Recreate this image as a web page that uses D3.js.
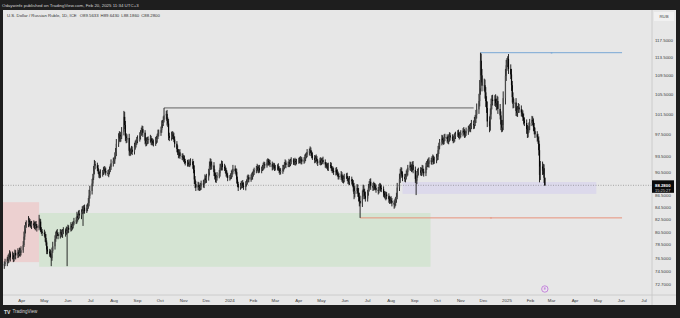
<!DOCTYPE html>
<html><head><meta charset="utf-8">
<script src="https://cdn.jsdelivr.net/npm/d3@7/dist/d3.min.js"></script>
<style>html,body{margin:0;padding:0;background:#1e1e1e;overflow:hidden}svg{display:block}</style>
</head><body><svg id="c" width="680" height="318"></svg>
<script>
// ---- data (USD/RUB daily, ICE) ----
const lastDate = "2025-02-20";
const firstOpen = 75.4;
const closes = [
 75.6,75.9,76.4,76.1,76.8,77.2,76.6,76.9,76.4,76.7,77.3,76.9,77.4,77.1,77.6,77.3,77.7,
 78.5,79.8,80.9,81.6,81.8,82.4,82.1,81.7,81.5,81.9,81.6,81.3,81.8,81.5,81.2,81.6,82.2,80.8,80.6,80.4,
 80.2,79.6,78.9,77.8,77.5,77.2,76.9,76.5,77.6,78.3,79.4,80.1,80.4,80.2,79.9,80.5,80.3,80.1,80.6,80.8,80.4,80.9,80.7,
 81.2,80.9,81.5,81.3,81.6,81.9,82.2,82.4,83.1,82.8,83.5,83.2,83.8,84.2,84.0,84.5,83.9,84.4,84.7,85.3,86.5,87.3,
 88.6,89.6,90.8,92.0,91.8,91.3,90.7,90.2,90.0,90.4,90.6,90.9,91.2,90.8,90.5,90.3,90.7,91.0,91.5,92.2,92.6,
 92.7,93.5,94.2,95.8,97.0,97.5,96.8,97.2,98.1,101.0,99.4,97.2,96.6,96.9,94.5,94.2,94.4,94.7,94.3,95.3,95.8,96.1,96.4,
 96.8,97.3,97.8,98.1,98.6,97.9,96.4,95.9,96.3,96.6,96.5,96.8,96.2,96.3,96.0,95.9,96.4,96.7,97.2,97.8,97.9,
 98.4,99.5,99.8,100.4,101.3,101.6,100.2,99.7,97.3,96.9,97.4,97.6,97.2,96.6,95.8,94.8,94.2,93.8,94.2,93.5,93.4,93.2,
 93.0,92.6,92.2,92.3,92.1,92.0,92.4,92.5,91.9,91.0,89.3,88.5,87.9,88.3,88.0,87.8,88.1,88.6,88.4,88.9,89.5,89.2,
 89.7,90.5,91.7,92.5,91.6,91.8,90.6,89.9,89.3,89.6,89.9,90.4,91.4,91.6,92.1,91.5,91.3,91.0,90.3,90.0,89.6,
 89.7,89.9,90.3,90.6,91.2,90.8,90.6,89.3,88.5,87.9,88.2,88.4,88.7,88.2,88.0,88.5,88.9,89.4,89.7,89.3,89.7,89.9,90.2,
 90.6,91.0,91.2,91.5,91.0,91.3,90.9,91.2,91.4,91.7,92.0,91.8,92.3,92.6,92.4,92.2,92.0,91.5,91.8,91.6,91.3,
 91.4,91.6,91.2,91.0,90.6,90.8,91.3,91.5,91.9,92.3,91.9,92.0,92.4,92.1,92.5,92.7,92.5,92.3,92.6,92.4,92.5,
 92.7,92.9,92.6,92.9,92.5,92.8,93.2,93.5,93.8,94.2,94.4,94.6,94.1,93.6,93.2,92.8,93.2,93.0,92.5,92.3,92.7,92.3,
 92.6,92.8,92.4,92.0,91.8,91.6,91.4,91.9,91.7,91.3,91.1,90.8,90.6,91.0,90.5,90.3,89.9,89.7,90.2,89.5,89.1,89.4,89.8,
 89.9,89.5,89.1,88.8,89.3,89.0,88.6,87.9,86.8,87.3,87.8,87.0,86.3,85.6,85.2,86.4,87.6,87.1,86.5,86.0,
 86.9,87.8,88.4,88.9,88.2,87.9,88.3,88.1,87.8,87.5,87.3,87.9,88.2,87.8,87.6,86.9,86.6,86.3,86.7,86.4,85.9,85.6,85.8,
 85.6,85.3,85.0,85.4,85.8,86.3,87.9,89.4,90.4,90.8,90.2,89.7,89.4,89.8,90.2,90.6,91.4,91.8,91.5,91.2,91.9,91.0,
 89.4,89.1,90.1,90.6,90.9,90.5,90.9,91.2,90.7,90.4,91.6,92.0,92.4,92.1,92.7,92.5,92.9,93.1,92.6,92.8,93.2,
 93.4,94.6,95.3,96.1,96.8,96.5,96.2,96.9,97.1,96.7,96.3,96.9,97.4,97.0,96.8,96.5,96.9,97.3,97.6,97.8,97.5,97.3,97.5,
 97.8,98.3,98.0,97.6,97.8,98.2,98.6,98.9,98.7,99.2,99.6,99.4,100.1,100.6,101.4,102.5,104.2,106.8,112.8,109.6,107.4,
 107.5,106.0,104.2,102.8,100.1,99.2,101.5,103.6,104.5,104.2,104.6,103.8,103.4,104.2,102.6,101.3,99.5,98.9,99.4,104.8,109.5,111.8,
 112.4,113.2,111.0,109.8,107.5,105.0,103.6,103.9,102.2,101.8,102.4,102.9,102.5,101.9,101.6,100.9,100.3,99.8,98.6,97.7,98.5,99.2,99.8,
 100.4,100.1,99.0,98.2,97.6,97.0,96.4,94.6,90.1,91.6,90.9,91.3,89.6,88.28
];
const upperWicks = [
 .4,.5,.3,.6,.4,.5,.3,.6,.4,.3,.5,.4,.6,.3,.5,.4,.6,
 .6,.8,.7,.5,.6,.7,.4,.5,.6,.4,.5,.6,.4,.5,.3,1.7,.5,.4,.5,.4,
 .5,.4,.6,.3,.5,.4,.6,.3,.5,.7,.6,.5,.4,.6,.3,.5,.4,.6,.4,.5,.3,.5,.4,
 .5,.4,.6,.3,.5,.4,.6,.5,.7,.4,.5,.6,.4,.5,.6,.4,.5,.6,.5,.8,1.0,.9,
 .8,.7,.9,.8,.6,.5,.6,.4,.5,.7,.4,.6,.5,.4,.6,.5,.4,.6,.5,.7,.6,
 .6,.7,.8,.9,.8,.7,.6,.8,.9,1.2,1.0,.8,.6,.7,.8,.6,.5,.7,.6,.7,.6,.5,.7,
 .6,.7,.6,.8,.7,.6,.5,.6,.7,.5,.6,.7,.5,.6,.5,.6,.7,.6,.5,.7,.6,
 .7,.8,.6,.7,1.5,.6,.8,.7,.9,.6,.7,.6,.5,.7,.6,.5,.7,.6,.5,.6,.5,.6,
 .5,.6,.4,.5,.6,.4,.5,.6,.5,.7,.8,.6,.5,.6,.5,.4,.6,.5,.6,.5,.7,.5,
 .6,.7,.8,.6,.5,.7,.6,.5,.6,.5,.7,.6,.7,.5,.6,.5,.6,.5,.4,.6,.5,
 .4,.5,.6,.5,.7,.6,.5,.6,.5,.4,.5,.6,.4,.5,.6,.5,.4,.6,.5,.4,.5,.6,.5,
 .5,.4,.5,.6,.4,.5,.6,.4,.5,.6,.5,.4,.6,.5,.4,.5,.6,.5,.4,.5,.6,
 .5,.4,.6,.5,.4,.5,.6,.4,.5,.6,.4,.5,.6,.4,.5,.6,.4,.5,.6,.4,.5,
 .5,.4,.6,.5,.4,.5,.6,.5,.4,.6,.5,.7,.5,.4,.6,.5,.4,.6,.5,.4,.5,.6,
 .5,.4,.6,.5,.4,.5,.6,.4,.5,.6,.4,.5,.6,.4,.5,.6,.4,.5,.6,.4,.5,.6,.5,
 .5,.6,.4,.5,.6,.5,.4,.6,.8,.9,.7,.6,.8,.7,.9,1.0,.8,.7,.6,.7,
 .6,.7,.6,.5,.6,.5,.6,.4,.5,.6,.5,.6,.5,.4,.6,.5,.4,.6,.5,.4,.5,.6,.5,
 .6,.5,.4,.6,.5,.7,.8,.9,.8,.7,.6,.5,.6,.5,.7,.6,.5,.7,.6,.5,.6,.7,
 .6,.5,.7,.6,.5,.6,.5,.7,.6,.5,.7,.6,.5,.7,.6,.5,.6,.7,.5,.6,.7,
 .6,.8,.7,.6,.7,.6,.5,.7,.6,.5,.6,.7,.6,.5,.6,.5,.7,.6,.5,.6,.7,.5,.6,
 .6,.5,.7,.6,.5,.7,.6,.5,.7,.6,.8,.7,.9,.8,1.0,1.2,1.5,1.8,1.8,1.6,1.4,
 1.4,1.2,1.1,1.0,1.3,1.0,1.2,1.1,.9,1.0,.8,1.0,.9,1.1,.9,1.0,.8,.9,1.0,1.4,1.5,1.2,
 1.0,.6,1.1,1.0,1.2,.9,1.0,.8,.9,.7,.8,.9,.7,.8,.6,.7,.8,.6,.7,.8,.6,.7,.8,
 .8,.7,.6,.8,.7,.6,.7,.8,1.2,1.0,.9,.8,.7,.04
];
const lowerWicks = [
 .5,.3,.6,.4,.3,.5,.6,.3,.5,.4,.3,.6,.4,.5,.3,.6,.4,
 .4,.3,.5,.6,.4,.5,.6,.4,.3,.5,.4,.3,.5,.4,.6,.4,.5,.3,.4,.5,
 .4,.6,.5,.7,.4,.5,.3,1.2,.4,.3,.5,.4,.6,.3,.5,.4,.6,.3,.5,.4,.6,.3,5.4,
 .4,.5,.3,.6,.4,.5,.3,.4,.5,.6,.3,.5,.6,.4,2.5,.5,.4,.3,.5,.4,.6,.5,
 .6,.5,.4,.6,.7,.5,.4,.6,.5,.4,.6,.5,.4,.6,.5,.4,.6,.5,.4,.5,.6,
 .5,.6,.5,.7,.6,.8,.7,.6,.5,.7,.8,.9,.7,.6,.9,.7,.6,.5,.6,.5,.6,.7,.5,
 .5,.6,.7,.5,.6,.8,.7,.6,.5,.6,.7,.5,.6,.7,.5,.6,.5,.6,.7,.5,.6,
 .6,.5,.7,.6,.5,.8,.9,.7,.8,.6,.5,.7,.6,.5,.7,.6,.5,.7,.6,.5,.6,.5,
 .6,.5,.4,.6,.5,.4,.5,.6,.7,.6,.8,.7,.6,.5,.6,.5,.4,.6,.5,.6,.4,.5,
 .5,.6,.5,.7,.6,.5,.7,.6,.5,.6,.5,.4,.6,.5,.7,.6,.5,.6,.5,.4,.6,
 .5,.4,.5,.6,.4,.5,.6,.7,.5,.6,.4,.5,.6,.4,.5,.6,.4,.5,.6,.5,.4,.5,.6,
 .4,.5,.6,.4,.5,.6,.4,.5,.4,.5,.6,.5,.4,.5,.6,.4,.5,.6,.5,.4,.5,
 .4,.5,.4,.6,.5,.4,.5,.6,.4,.5,.6,.4,.5,.6,.4,.5,.6,.4,.5,.6,.4,
 .4,.5,.4,.6,.5,.4,.5,.6,.4,.5,.6,.4,.6,.5,.4,.6,.5,.4,.5,.6,.4,.5,
 .4,.5,.4,.6,.5,.4,.5,.6,.4,.5,.6,.4,.5,.6,.4,.5,.6,.4,.5,.6,.4,.5,.6,
 .4,.5,.6,.4,.5,.6,.5,.7,.9,.6,.5,.7,.8,.9,2.4,.6,.5,.7,.6,.5,
 .5,.4,.6,.5,.7,.6,.5,.6,.4,.5,.6,.4,.5,.6,.5,.6,.5,.4,.6,.5,.6,.5,.4,
 .5,.6,.7,.5,.6,.5,.4,.6,.7,.5,.6,.7,.5,.6,.5,.4,.6,.5,.7,.6,.5,.6,
 .7,2.5,.6,.5,.6,.5,.6,.5,.7,.6,.5,.6,.5,.6,.7,.5,.6,.5,.6,.5,.6,
 .5,.6,.7,.5,.6,.7,.6,.5,.6,.7,.5,.6,.7,.6,.5,.6,.5,.7,.6,.5,.6,.7,.5,
 .5,.6,.5,.7,.6,.5,.7,.6,.5,.7,.6,.8,.7,.9,.8,.7,.9,1.1,1.3,1.5,1.2,
 1.1,1.3,1.2,1.0,1.1,1.2,.9,1.0,1.1,.9,1.0,.8,1.1,.9,1.0,.8,1.1,.9,.8,1.0,1.3,1.1,
 1.2,1.0,1.1,1.0,1.2,1.1,.9,.8,1.0,.7,.8,.6,.7,.8,.6,.7,.8,.6,.9,.8,.7,.6,.8,
 .6,.7,.8,.6,.7,.8,.6,1.0,1.3,.9,.8,.7,.9,.09
];
const priceTicks = [117.5,113.5,109.5,105.5,101.5,97.5,93.5,90.5,86.5,84.5,82.5,80.5,78.5,76.5,74.5,72.7];
const monthLabels = ["Apr","May","Jun","Jul","Aug","Sep","Oct","Nov","Dec","2024","Feb","Mar","Apr","May","Jun","Jul","Aug","Sep","Oct","Nov","Dec","2025","Feb","Mar","Apr","May","Jun","Jul"];
const firstMonth = "2023-04-01";
const title = "U.S. Dollar / Russian Ruble, 1D, ICE";
const ohlcText = ["O89.5633","H89.6430","L88.1860","C88.2800"];
// drawings (price/date anchored)
const zones = [
 {from:"2023-03-01", to:"2023-04-24", top:85.4, bottom:75.9, fill:"#ecd0d0"},
 {from:"2023-04-24", to:"2024-09-22", top:83.6, bottom:75.2, fill:"#d5e4d3"},
 {from:"2024-08-16", to:"2025-04-29", top:88.85, bottom:86.8, fill:"#dcd9eb"}
];
const levels = [
 {from:"2023-10-06", to:"2024-11-18", price:102.8, color:"#555555", mark:false},
 {from:"2024-11-27", to:"2025-06-02", price:114.6, color:"#6c9fd3", mark:true},
 {from:"2024-06-21", to:"2025-06-02", price:82.8, color:"#e9896f", mark:true}
];

// ---- build ----
const parse = d3.timeParse("%Y-%m-%d");
const dates = new Array(closes.length);
{
  let d = parse(lastDate);
  for (let i = closes.length - 1; i >= 0; i--) {
    dates[i] = new Date(d);
    do { d = d3.timeDay.offset(d, -1); } while (d.getDay() === 0 || d.getDay() === 6);
  }
}
const candles = closes.map((c, i) => {
  const o = i === 0 ? firstOpen : closes[i - 1];
  return {date: dates[i], o, c, h: Math.max(o, c) + upperWicks[i], l: Math.min(o, c) - lowerWicks[i]};
});

const W = 680, H = 318;
const plot = {x0: 3, x1: 652, y0: 10, y1: 295};
const x = d3.scaleTime().domain([parse("2023-04-01"), parse("2025-07-01")]).range([21.7, 644]);
const y = d3.scaleLog().domain([72.7, 117.5]).range([284, 40]);

const svg = d3.select("#c");
const font = "'Liberation Sans', Arial, sans-serif";
svg.append("rect").attr("width", W).attr("height", H).attr("fill", "#1e1e1e");
svg.append("rect").attr("x", plot.x0).attr("y", plot.y0).attr("width", 676 - plot.x0).attr("height", 305 - plot.y0).attr("fill", "#e7e7e7");

const defs = svg.append("defs");
defs.append("clipPath").attr("id", "clip").append("rect")
  .attr("x", plot.x0).attr("y", plot.y0).attr("width", plot.x1 - plot.x0).attr("height", plot.y1 - plot.y0);
const g = svg.append("g").attr("clip-path", "url(#clip)");

// zones
g.selectAll("rect.zone").data(zones).join("rect").attr("class", "zone")
  .attr("x", d => x(parse(d.from))).attr("width", d => x(parse(d.to)) - x(parse(d.from)))
  .attr("y", d => y(d.top)).attr("height", d => y(d.bottom) - y(d.top))
  .attr("fill", d => d.fill);

// current price dotted line
const last = candles[candles.length - 1];
g.append("line").attr("x1", plot.x0).attr("x2", plot.x1).attr("y1", y(last.c)).attr("y2", y(last.c))
  .attr("stroke", "#7a7a7a").attr("stroke-width", 0.6).attr("stroke-dasharray", "1,1.5");

// levels
g.selectAll("line.lvl").data(levels).join("line").attr("class", "lvl")
  .attr("x1", d => x(parse(d.from))).attr("x2", d => x(parse(d.to)))
  .attr("y1", d => y(d.price)).attr("y2", d => y(d.price))
  .attr("stroke", d => d.color).attr("stroke-width", 0.9);
g.selectAll("text.lvlmark").data(levels.filter(d => d.mark)).join("text").attr("class", "lvlmark")
  .attr("x", d => (x(parse(d.from)) + x(parse(d.to))) / 2).attr("y", d => y(d.price) + 1.2)
  .attr("text-anchor", "middle").attr("font-family", font).attr("font-size", 3.5)
  .attr("fill", d => d.color).text("x");

// candles
const cg = g.append("g");
cg.selectAll("line.w").data(candles).join("line").attr("class", "w")
  .attr("x1", d => x(d.date)).attr("x2", d => x(d.date))
  .attr("y1", d => y(d.h)).attr("y2", d => y(d.l))
  .attr("stroke", "#141414").attr("stroke-width", 0.9);
cg.selectAll("rect.b").data(candles).join("rect").attr("class", "b")
  .attr("x", d => x(d.date) - 0.6).attr("width", 1.2)
  .attr("y", d => y(Math.max(d.o, d.c))).attr("height", d => Math.max(0.5, y(Math.min(d.o, d.c)) - y(Math.max(d.o, d.c))))
  .attr("fill", d => d.c >= d.o ? "#4a4a4a" : "#050505");

// separators
svg.append("line").attr("x1", plot.x1).attr("x2", plot.x1).attr("y1", plot.y0).attr("y2", 305).attr("stroke", "#c6c6c6").attr("stroke-width", 0.8);
svg.append("line").attr("x1", plot.x0).attr("x2", 676).attr("y1", plot.y1).attr("y2", plot.y1).attr("stroke", "#c6c6c6").attr("stroke-width", 0.8);

// price axis
svg.append("g").selectAll("text").data(priceTicks).join("text")
  .attr("x", 655).attr("y", d => y(d) + 1.5).attr("font-family", font).attr("font-size", 4.4)
  .attr("fill", "#3a3a3a").text(d => d.toFixed(4));

// current price label
const lp = y(last.c);
svg.append("rect").attr("x", plot.x1).attr("y", lp - 5).attr("width", 22).attr("height", 12.5).attr("fill", "#0b0b0b");
svg.append("text").attr("x", 655).attr("y", lp + 1.5).attr("font-family", font).attr("font-size", 4.3).attr("font-weight", "bold").attr("fill", "#fff").text(last.c.toFixed(4));
svg.append("text").attr("x", 655).attr("y", lp + 6.3).attr("font-family", font).attr("font-size", 4).attr("fill", "#cfcfcf").text("15:25:27");

// RUB
svg.append("rect").attr("x", 654).attr("y", 12).attr("width", 20).attr("height", 9).attr("fill", "#f1f1f1");
svg.append("text").attr("x", 664).attr("y", 18).attr("text-anchor", "middle").attr("font-family", font).attr("font-size", 4.3).attr("fill", "#444").text("RUB");

// time axis
const months = d3.timeMonth.range(parse(firstMonth), d3.timeMonth.offset(parse(firstMonth), monthLabels.length));
svg.append("g").selectAll("text").data(months).join("text")
  .attr("x", d => x(d)).attr("y", 301.5).attr("text-anchor", "middle")
  .attr("font-family", font).attr("font-size", 4.4).attr("fill", "#3a3a3a")
  .text((d, i) => monthLabels[i]);

// event marker
svg.append("circle").attr("cx", x(last.date)).attr("cy", 289).attr("r", 3.2).attr("fill", "#ece6ef").attr("stroke", "#b35fd1").attr("stroke-width", 0.7);
svg.append("text").attr("x", x(last.date)).attr("y", 290.3).attr("text-anchor", "middle").attr("font-family", font).attr("font-size", 3.5).attr("fill", "#b35fd1").text("E");

// header & legend
svg.append("text").attr("x", 2).attr("y", 6.5).attr("font-family", font).attr("font-size", 4.4).attr("fill", "#d4d4d4")
  .text("Odaywinfx published on TradingView.com, Feb 20, 2025 11:34 UTC+3");
const leg = svg.append("text").attr("x", 7).attr("y", 17.2).attr("font-family", font).attr("font-size", 4.3).attr("fill", "#333");
leg.append("tspan").text(title);
ohlcText.forEach((t, i) => leg.append("tspan").attr("dx", i === 0 ? 3 : 2).text(t));

// footer logo
svg.append("text").attr("x", 4).attr("y", 313.5).attr("font-family", font).attr("font-size", 5).attr("font-weight", "bold").attr("fill", "#e0e0e0").text("TV");
svg.append("text").attr("x", 12.5).attr("y", 313.3).attr("font-family", font).attr("font-size", 4.5).attr("fill", "#d8d8d8").text("TradingView");
</script></body></html>
